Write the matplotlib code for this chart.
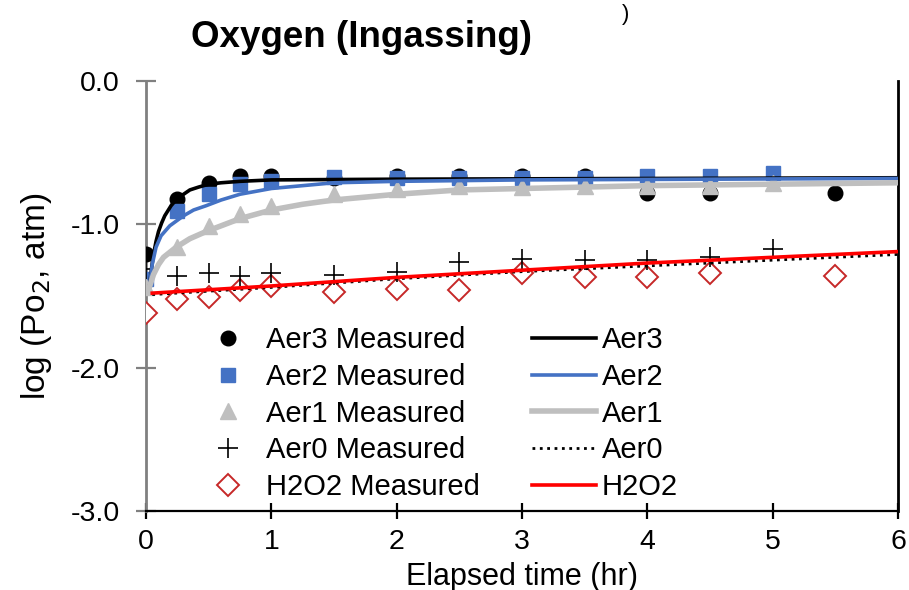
import numpy as np
import matplotlib
matplotlib.use('Agg')
import matplotlib.pyplot as plt

plt.rcParams['font.family'] = ['Liberation Sans', 'DejaVu Sans']
plt.rcParams['axes.unicode_minus'] = False

# Measured points
t_aer3 = [0, 0.25, 0.5, 0.75, 1, 1.5, 2, 2.5, 3, 3.5, 4, 4.5, 5.5]
y_aer3 = [-1.21, -0.82, -0.71, -0.66, -0.66, -0.68, -0.66, -0.66, -0.66, -0.66, -0.78, -0.78, -0.78]

t_aer2 = [0, 0.25, 0.5, 0.75, 1, 1.5, 2, 2.5, 3, 3.5, 4, 4.5, 5]
y_aer2 = [-1.38, -0.91, -0.79, -0.72, -0.70, -0.67, -0.68, -0.68, -0.68, -0.68, -0.66, -0.66, -0.64]

t_aer1 = [0, 0.25, 0.5, 0.75, 1, 1.5, 2, 2.5, 3, 3.5, 4, 4.5, 5]
y_aer1 = [-1.44, -1.16, -1.01, -0.93, -0.87, -0.79, -0.75, -0.73, -0.74, -0.73, -0.73, -0.73, -0.71]

t_aer0 = [0, 0.25, 0.5, 0.75, 1, 1.5, 2, 2.5, 3, 3.5, 4, 4.5, 5]
y_aer0 = [-1.31, -1.36, -1.34, -1.36, -1.34, -1.35, -1.33, -1.26, -1.24, -1.25, -1.25, -1.23, -1.17]

t_h2o2 = [0, 0.25, 0.5, 0.75, 1, 1.5, 2, 2.5, 3, 3.5, 4, 4.5, 5.5]
y_h2o2 = [-1.62, -1.52, -1.51, -1.46, -1.43, -1.47, -1.45, -1.46, -1.34, -1.37, -1.37, -1.34, -1.36]

# Model curves
tm3 = [0.03, 0.04, 0.05, 0.06, 0.08, 0.1, 0.125, 0.15, 0.2, 0.25, 0.3, 0.35, 0.42, 0.5, 0.6, 0.75, 1, 2, 4, 6]
ym3 = [-1.42, -1.34, -1.27, -1.21, -1.12, -1.05, -0.99, -0.94, -0.87, -0.82, -0.79, -0.76, -0.74, -0.72, -0.71, -0.70, -0.69, -0.685, -0.68, -0.675]

tm2 = [0.03, 0.05, 0.08, 0.12, 0.19, 0.3, 0.38, 0.48, 0.6, 0.75, 1, 1.25, 1.5, 2, 3, 6]
ym2 = [-1.42, -1.28, -1.16, -1.08, -1.01, -0.94, -0.90, -0.87, -0.83, -0.79, -0.75, -0.73, -0.71, -0.70, -0.69, -0.68]

tm1 = [0.03, 0.06, 0.1, 0.14, 0.24, 0.35, 0.48, 0.6, 0.75, 1, 1.25, 1.5, 2, 2.5, 3, 4, 6]
ym1 = [-1.43, -1.35, -1.28, -1.23, -1.16, -1.10, -1.05, -1.01, -0.96, -0.90, -0.86, -0.83, -0.79, -0.76, -0.75, -0.73, -0.71]

tm0 = [0.05, 1, 2, 3, 4, 5, 6]
ym0 = [-1.49, -1.44, -1.38, -1.33, -1.29, -1.25, -1.21]

tmh = [0.05, 1, 2, 3, 4, 5, 6]
ymh = [-1.48, -1.43, -1.37, -1.32, -1.27, -1.23, -1.19]

blue = '#4472C4'
grey = '#BFBFBF'
dred = '#C62828'

fig = plt.figure(figsize=(9.09, 5.9), dpi=100)
ax = fig.add_axes([0.1606, 0.1339, 0.8274, 0.7288])

# markers
h1, = ax.plot(t_aer3, y_aer3, 'o', color='black', ms=10.5, label='Aer3 Measured', zorder=5)
h2, = ax.plot(t_aer2, y_aer2, 's', color=blue, ms=10, label='Aer2 Measured', zorder=5)
h3, = ax.plot(t_aer1, y_aer1, '^', color=grey, ms=12, label='Aer1 Measured', zorder=5)
h4, = ax.plot(t_aer0, y_aer0, '+', color='black', ms=15, mew=1.2, label='Aer0 Measured', zorder=5)
h5, = ax.plot(t_h2o2, y_h2o2, 'D', mfc='white', mec=dred, ms=11, mew=1.4, label='H2O2 Measured', zorder=4)

# model lines
l1, = ax.plot(tm3, ym3, '-', color='black', lw=2.6, label='Aer3', zorder=6)
l2, = ax.plot(tm2, ym2, '-', color=blue, lw=2.6, label='Aer2', zorder=6)
l3, = ax.plot(tm1, ym1, '-', color=grey, lw=4, label='Aer1', zorder=6)
l4, = ax.plot(tm0, ym0, ':', color='black', lw=2, label='Aer0', zorder=6)
l5, = ax.plot(tmh, ymh, '-', color='#FF0000', lw=2.6, label='H2O2', zorder=7)

ax.set_xlim(0, 6)
ax.set_ylim(-3, 0)
ax.set_xticks(range(0, 7))
ax.set_yticks([0, -1, -2, -3])
ax.yaxis.set_major_formatter(matplotlib.ticker.FormatStrFormatter('%.1f'))

ax.spines['top'].set_visible(False)
ax.spines['left'].set_color('#808080')
ax.spines['left'].set_linewidth(2)
ax.spines['bottom'].set_linewidth(1.6)
ax.spines['right'].set_linewidth(2)
ax.tick_params(axis='y', direction='inout', length=14, width=1.6, color='#808080',
               labelsize=20.5, pad=12)
ax.tick_params(axis='x', direction='inout', length=11.5, width=1.6, labelsize=20.5, pad=7)

ax.set_xlabel('Elapsed time (hr)', fontsize=22)
ax.xaxis.set_label_coords(0.5, -0.118)
ax.set_ylabel('log (Po$_2$, atm)', fontsize=24)
ax.yaxis.set_label_coords(-0.122, 0.5)
fig.text(0.398, 0.937, 'Oxygen (Ingassing)', fontsize=26.5, fontweight='bold',
         ha='center', va='center')
fig.text(0.688, 0.975, ')', fontsize=16, ha='center', va='center')

ax.legend(handles=[h1, h2, h3, h4, h5, l1, l2, l3, l4, l5], ncol=2, frameon=False,
          loc='upper left', bbox_to_anchor=(0.066, 0.43), borderaxespad=0, borderpad=0,
          fontsize=21, handlelength=2.2, handletextpad=0.2, columnspacing=1.8,
          labelspacing=0.3)

fig.savefig('out.png', dpi=100)
